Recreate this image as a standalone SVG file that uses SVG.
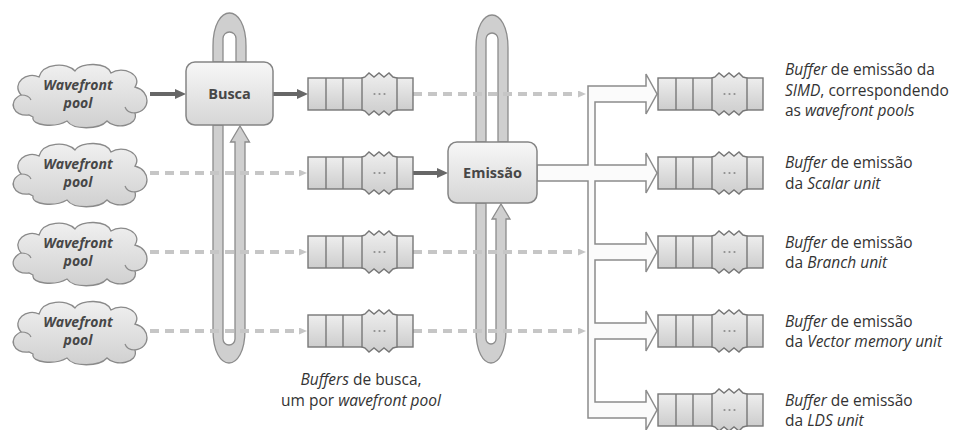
<svg xmlns="http://www.w3.org/2000/svg" xmlns:xlink="http://www.w3.org/1999/xlink" width="961" height="430" viewBox="0 0 961 430">
  <style>
    text { font-family: "Open Sans", "Liberation Sans", Arial, sans-serif; }
    .lbl { font-size: 15.5px; fill: #333; }
    .it { font-style: italic; }
    .pool { font-size: 14px; font-weight: bold; font-style: italic; fill: #474747; text-anchor: middle; }
    .boxt { font-size: 14.5px; font-weight: bold; fill: #474747; text-anchor: middle; }
    .cap { font-size: 15.5px; fill: #333; text-anchor: middle; }
    .box { fill: url(#gBox); stroke: #858585; stroke-width: 1.5; }
    .cloud { fill: url(#gCloud); stroke: #8a8a8a; stroke-width: 1.3; }
    .curl { fill: none; stroke: #8a8a8a; stroke-width: 1.2; }
    .tube { fill: #cfcfcf; stroke: #8c8c8c; stroke-width: 1.3; }
    .bus { fill: #fbfbfb; stroke: #8c8c8c; stroke-width: 1.5; stroke-linejoin: miter; }
    .solid { fill: none; stroke: #676767; stroke-width: 4; }
    .dash { fill: none; stroke: #c6c6c6; stroke-width: 4; stroke-dasharray: 9 6; }
    .qcell { fill: url(#gQ); stroke: #777; stroke-width: 1.4; }
    .qdiv { stroke: #777; stroke-width: 1.4; }
    .qdot { fill: #8f8f8f; }
  </style>
  <defs>
    <linearGradient id="gBox" x1="0" y1="0" x2="0" y2="1">
      <stop offset="0" stop-color="#f7f7f7"/>
      <stop offset="1" stop-color="#d6d6d6"/>
    </linearGradient>
    <linearGradient id="gCloud" x1="0" y1="0" x2="0" y2="1">
      <stop offset="0" stop-color="#f0f0f0"/>
      <stop offset="1" stop-color="#d0d0d0"/>
    </linearGradient>
    <linearGradient id="gQ" x1="0" y1="0" x2="0" y2="1">
      <stop offset="0" stop-color="#eeeeee"/>
      <stop offset="1" stop-color="#cdcdcd"/>
    </linearGradient>
    <marker id="mSolid" markerUnits="userSpaceOnUse" markerWidth="12" markerHeight="11" refX="5" refY="5" orient="auto">
      <path d="M0,0 L11,5 L0,10 Z" fill="#676767"/>
    </marker>
    <marker id="mDash" markerUnits="userSpaceOnUse" markerWidth="9" markerHeight="8" refX="2" refY="3.5" orient="auto">
      <path d="M0,0 L8,3.5 L0,7 Z" fill="#c6c6c6"/>
    </marker>
    <!-- cloud outline, centred on the origin -->
    <g id="cloudShape">
      <path class="cloud" d="M-50,20 C-66,22 -72,6 -58,0 C-68,-12 -52,-24 -40,-18 C-36,-32 -12,-33 -4,-24 C2,-33 28,-33 32,-22 C44,-30 64,-20 56,-8 C72,-4 72,16 56,18 C60,31 36,35 28,26 C20,35 -6,35 -12,26 C-24,33 -48,31 -46,22 Z"/>
      <path class="curl" d="M-58,0 Q-50,0 -48,5"/>
      <path class="curl" d="M56,18 Q48,18 46,12"/>
    </g>
    <!-- queue buffer: five slots, the fourth one elided -->
    <g id="queue">
      <rect class="qcell" x="0" y="0" width="105" height="32"/>
      <path class="qcell" d="M54,0 L57,-1 L61,-5 L66,-1 L71,-5 L76,-1 L81,-5 L85,-1 L89,0 V32 L85,33 L81,37 L76,33 L71,37 L66,33 L61,37 L57,33 L54,32 Z"/>
      <line class="qdiv" x1="18" y1="0" x2="18" y2="32"/>
      <line class="qdiv" x1="35" y1="0" x2="35" y2="32"/>
      <circle class="qdot" cx="66.5" cy="16" r="1.1"/>
      <circle class="qdot" cx="71.5" cy="16" r="1.1"/>
      <circle class="qdot" cx="76.5" cy="16" r="1.1"/>
    </g>
  </defs>

  <rect width="961" height="430" fill="#ffffff"/>

  <g id="connectors">
    <!-- feedback loops around Busca and Emissão -->
    <path class="tube" d="M213,62 V46 C213,2 246,2 246,46 V62 H236 V38.5 A6.5,6.5 0 0 0 223,38.5 V62 Z"/>
    <path class="tube" d="M213,125 V330 C213,374 245,374 245,330 V142 H249.5 L240,126 L230.5,142 H235 V339 A6,6 0 0 1 223,339 V125 Z"/>
    <path class="tube" d="M476,142 V48 C476,4 508,4 508,48 V142 H498 V39 A6,6 0 0 0 486,39 V142 Z"/>
    <path class="tube" d="M476,203 V330 C476,374 506,374 506,330 V219 H510 L501,204 L492,219 H496 V339 A5,5 0 0 1 486,339 V203 Z"/>

    <!-- hollow distribution arrow from Emissão to the issue buffers -->
    <path class="bus" d="M588,86 H646 V74 L657,94 L646,114 V102 H595 V165 H646 V153 L657,173 L646,193 V181 H595 V244 H646 V232 L657,252 L646,272 V260 H595 V323 H646 V311 L657,331 L646,351 V339 H595 V402 H646 V390 L657,410 L646,430 V418 H588 V181 H537 V165 H588 Z"/>

    <!-- active paths -->
    <path class="solid" d="M150,94 H180" marker-end="url(#mSolid)"/>
    <path class="solid" d="M273,94 H302" marker-end="url(#mSolid)"/>
    <path class="solid" d="M413,173 H442" marker-end="url(#mSolid)"/>

    <!-- inactive paths -->
    <path class="dash" d="M413,94 H580" marker-end="url(#mDash)"/>
    <path class="dash" d="M150,173 H301" marker-end="url(#mDash)"/>
    <path class="dash" d="M150,252 H301" marker-end="url(#mDash)"/>
    <path class="dash" d="M413,252 H580" marker-end="url(#mDash)"/>
    <path class="dash" d="M150,331 H301" marker-end="url(#mDash)"/>
    <path class="dash" d="M413,331 H580" marker-end="url(#mDash)"/>
  </g>

  <!-- wavefront pools -->
  <g id="pool-1">
    <use xlink:href="#cloudShape" transform="translate(79,95)"/>
    <text class="pool" x="78" y="90">Wavefront</text>
    <text class="pool" x="78" y="108">pool</text>
  </g>
  <g id="pool-2">
    <use xlink:href="#cloudShape" transform="translate(79,174)"/>
    <text class="pool" x="78" y="169">Wavefront</text>
    <text class="pool" x="78" y="187">pool</text>
  </g>
  <g id="pool-3">
    <use xlink:href="#cloudShape" transform="translate(79,253)"/>
    <text class="pool" x="78" y="248">Wavefront</text>
    <text class="pool" x="78" y="266">pool</text>
  </g>
  <g id="pool-4">
    <use xlink:href="#cloudShape" transform="translate(79,332)"/>
    <text class="pool" x="78" y="327">Wavefront</text>
    <text class="pool" x="78" y="345">pool</text>
  </g>

  <!-- fetch and issue stages -->
  <g id="busca">
    <rect class="box" x="186" y="62" width="87" height="63" rx="9"/>
    <text class="boxt" x="229.5" y="99">Busca</text>
  </g>
  <g id="emissao">
    <rect class="box" x="448" y="142" width="89" height="61" rx="9"/>
    <text class="boxt" x="492.5" y="178">Emissão</text>
  </g>

  <!-- fetch buffers, one per pool -->
  <g id="fetch-buf-1"><use xlink:href="#queue" transform="translate(308,78)"/></g>
  <g id="fetch-buf-2"><use xlink:href="#queue" transform="translate(308,157)"/></g>
  <g id="fetch-buf-3"><use xlink:href="#queue" transform="translate(308,236)"/></g>
  <g id="fetch-buf-4"><use xlink:href="#queue" transform="translate(308,315)"/></g>
  <g id="fetch-caption">
    <text class="cap" x="361" y="385"><tspan class="it">Buffers</tspan> de busca,</text>
    <text class="cap" x="361" y="406">um por <tspan class="it">wavefront pool</tspan></text>
  </g>

  <!-- issue buffers per execution unit -->
  <g id="issue-simd">
    <use xlink:href="#queue" transform="translate(658,78)"/>
    <text class="lbl" x="785" y="75"><tspan class="it">Buffer</tspan> de emissão da</text>
    <text class="lbl" x="785" y="96"><tspan class="it">SIMD</tspan>, correspondendo</text>
    <text class="lbl" x="785" y="116">as <tspan class="it">wavefront pools</tspan></text>
  </g>
  <g id="issue-scalar">
    <use xlink:href="#queue" transform="translate(658,157)"/>
    <text class="lbl" x="785" y="168"><tspan class="it">Buffer</tspan> de emissão</text>
    <text class="lbl" x="785" y="189">da <tspan class="it">Scalar unit</tspan></text>
  </g>
  <g id="issue-branch">
    <use xlink:href="#queue" transform="translate(658,236)"/>
    <text class="lbl" x="785" y="248"><tspan class="it">Buffer</tspan> de emissão</text>
    <text class="lbl" x="785" y="268">da <tspan class="it">Branch unit</tspan></text>
  </g>
  <g id="issue-vmem">
    <use xlink:href="#queue" transform="translate(658,315)"/>
    <text class="lbl" x="785" y="327"><tspan class="it">Buffer</tspan> de emissão</text>
    <text class="lbl" x="785" y="347">da <tspan class="it">Vector memory unit</tspan></text>
  </g>
  <g id="issue-lds">
    <use xlink:href="#queue" transform="translate(658,394)"/>
    <text class="lbl" x="785" y="406"><tspan class="it">Buffer</tspan> de emissão</text>
    <text class="lbl" x="785" y="426">da <tspan class="it">LDS unit</tspan></text>
  </g>
</svg>
